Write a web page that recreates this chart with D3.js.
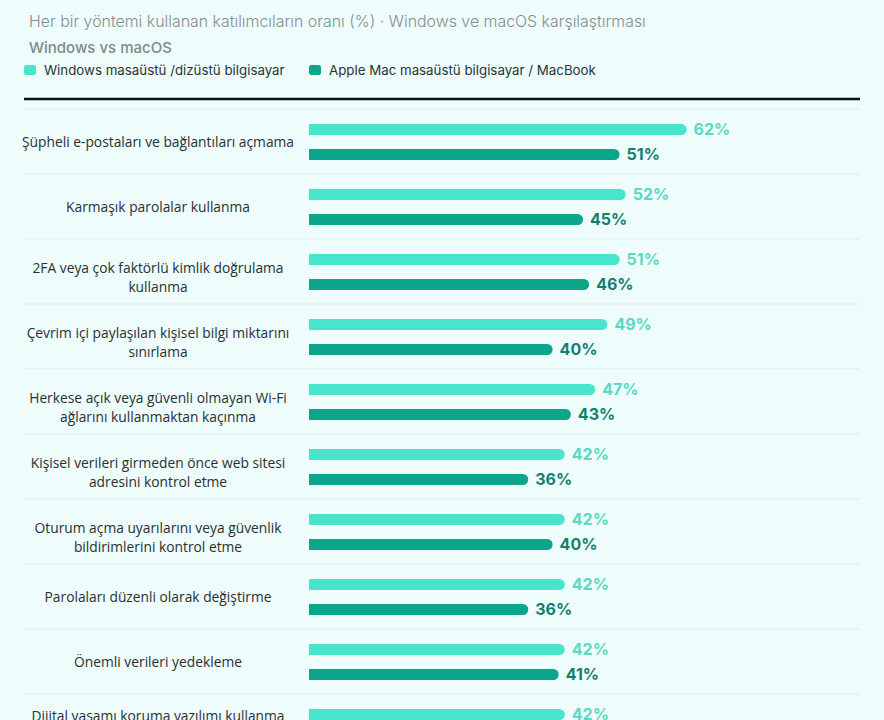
<!DOCTYPE html>
<html>
<head>
<meta charset="utf-8">
<script src="https://cdn.jsdelivr.net/npm/d3@7"></script>
<style>
  body { margin: 0; background: #eefcfc; }
  svg { display: block; }
</style>
</head>
<body>
<script>
// data
const categories = [
  ["Şüpheli e-postaları ve bağlantıları açmama"],
  ["Karmaşık parolalar kullanma"],
  ["2FA veya çok faktörlü kimlik doğrulama", "kullanma"],
  ["Çevrim içi paylaşılan kişisel bilgi miktarını", "sınırlama"],
  ["Herkese açık veya güvenli olmayan Wi-Fi", "ağlarını kullanmaktan kaçınma"],
  ["Kişisel verileri girmeden önce web sitesi", "adresini  kontrol etme"],
  ["Oturum açma uyarılarını veya güvenlik", "bildirimlerini kontrol etme"],
  ["Parolaları düzenli olarak değiştirme"],
  ["Önemli verileri yedekleme"],
  ["Dijital yaşamı koruma yazılımı kullanma"]
];
const windowsValues = [62, 52, 51, 49, 47, 42, 42, 42, 42, 42];
const macValues = [51, 45, 46, 40, 43, 36, 40, 36, 41, null];
const seriesNames = ["Windows masaüstü /dizüstü bilgisayar", "Apple Mac masaüstü bilgisayar / MacBook"];
const subtitle = "Her bir yöntemi kullanan katılımcıların oranı (%) · Windows ve macOS karşılaştırması";
const subtitle2 = "Windows vs macOS";
// data

const width = 884, height = 720;
const winColor = "#48e5cc", macColor = "#0ba58a";
const winText = "#5cd8c4", macText = "#13806e";

const svg = d3.select("body").append("svg")
  .attr("width", width)
  .attr("height", height);

// scales
const x = d3.scaleLinear()
  .domain([0, 100])
  .range([309, 918]);
const y = d3.scaleBand()
  .domain(d3.range(categories.length))
  .range([109, 109 + 65 * categories.length]);

const barH = 11;
const lineGap = 19;

// header
svg.append("text")
  .attr("x", 29).attr("y", 27)
  .attr("font-family", "Inter, sans-serif")
  .attr("font-size", 15.9)
  .attr("font-weight", 300)
  .attr("fill", "#858f8f")
  .text(subtitle);

svg.append("text")
  .attr("x", 29).attr("y", 53)
  .attr("font-family", "Inter, sans-serif")
  .attr("font-size", 15)
  .attr("font-weight", 500)
  .attr("fill", "#808a8a")
  .text(subtitle2);

// legend
const legend = svg.append("g");
const legendX = [24, 309];
[winColor, macColor].forEach((c, i) => {
  legend.append("rect")
    .attr("x", legendX[i]).attr("y", 65)
    .attr("width", 12).attr("height", 10)
    .attr("rx", 2.5)
    .attr("fill", c);
  legend.append("text")
    .attr("x", legendX[i] + 20).attr("y", 74.5)
    .attr("font-family", "Inter, sans-serif")
    .attr("font-size", 13.3)
    .attr("fill", "#2c3434")
    .text(seriesNames[i]);
});

// top rule
svg.append("line")
  .attr("x1", 24).attr("x2", 860)
  .attr("y1", 99).attr("y2", 99)
  .attr("stroke", "#111")
  .attr("stroke-width", 2.5);

// row separators
svg.selectAll(".sep")
  .data(d3.range(categories.length + 1))
  .enter().append("line")
  .attr("class", "sep")
  .attr("x1", 24).attr("x2", 860)
  .attr("y1", d => 109 + 65 * d)
  .attr("y2", d => 109 + 65 * d)
  .attr("stroke", "#dcefef")
  .attr("stroke-width", 1);

// bar with rounded right end
function barPath(x0, x1, y0, h) {
  const r = Math.min(h / 2, (x1 - x0) / 2);
  return `M${x0},${y0}H${x1 - r}A${r},${r} 0 0 1 ${x1},${y0 + r}V${y0 + h - r}A${r},${r} 0 0 1 ${x1 - r},${y0 + h}H${x0}Z`;
}

const rows = svg.selectAll(".row")
  .data(categories.map((c, i) => ({ i, lines: c, win: windowsValues[i], mac: macValues[i] })))
  .enter().append("g")
  .attr("class", "row");

// category labels
rows.each(function(d) {
  const g = d3.select(this);
  const n = d.lines.length;
  const last = d.i === categories.length - 1;
  const center = y(d.i) + (n > 1 ? 38 : (last ? 22 : 33));
  const start = center - (n - 1) * lineGap / 2;
  d.lines.forEach((line, k) => {
    g.append("text")
      .attr("x", 158)
      .attr("y", start + k * lineGap + 5)
      .attr("text-anchor", "middle")
      .attr("font-family", "'Open Sans', sans-serif")
      .attr("font-size", 13.8)
      .attr("font-weight", 500)
      .attr("fill", "#283131")
      .text(line);
  });
});

// windows bars
rows.append("path")
  .attr("d", d => barPath(x(0), x(d.win), y(d.i) + 15, barH))
  .attr("fill", winColor);
rows.append("text")
  .attr("x", d => x(d.win) + 7)
  .attr("y", d => y(d.i) + 15 + barH / 2 + 5.5)
  .attr("font-family", "Inter, sans-serif")
  .attr("font-size", 16)
  .attr("font-weight", 700)
  .attr("fill", winText)
  .text(d => d.win + "%");

// mac bars
const macRows = rows.filter(d => d.mac != null);
macRows.append("path")
  .attr("d", d => barPath(x(0), x(d.mac), y(d.i) + 40, barH))
  .attr("fill", macColor);
macRows.append("text")
  .attr("x", d => x(d.mac) + 7)
  .attr("y", d => y(d.i) + 40 + barH / 2 + 5.5)
  .attr("font-family", "Inter, sans-serif")
  .attr("font-size", 16)
  .attr("font-weight", 700)
  .attr("fill", macText)
  .text(d => d.mac + "%");
</script>
</body>
</html>
